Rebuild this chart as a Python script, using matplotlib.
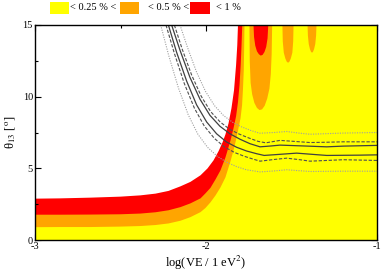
import numpy as np
import matplotlib
matplotlib.use("Agg")
import matplotlib.pyplot as plt
from matplotlib.patches import Rectangle
from matplotlib.ticker import MultipleLocator, FuncFormatter

plt.rcParams['font.family'] = ['Liberation Serif', 'DejaVu Serif']
plt.rcParams['mathtext.fontset'] = 'stix'

# ---- data ----
# outer boundary of the red (<1 %) region
red_x = [-3.0, -2.854, -2.678, -2.503, -2.386, -2.298, -2.222, -2.152, -2.094, -2.035,
         -1.994, -1.959, -1.930, -1.906, -1.889, -1.871, -1.854, -1.839, -1.827, -1.820,
         -1.816, -1.0]
red_th = [2.92, 2.94, 2.99, 3.06, 3.15, 3.27, 3.46, 3.78, 4.09, 4.55,
          5.03, 5.59, 6.22, 6.85, 7.41, 8.18, 9.23, 10.49, 12.24, 13.64,
          15, 15]
# boundary of the orange (<0.5 %) region
orange_x = [-3.0, -2.854, -2.678, -2.503, -2.386, -2.298, -2.222, -2.152, -2.094, -2.035,
            -2.006, -1.977, -1.947, -1.918, -1.889, -1.860, -1.842, -1.827, -1.816, -1.807,
            -1.800, -1.795, -1.791, -1.0]
orange_th = [1.80, 1.80, 1.81, 1.83, 1.88, 1.97, 2.11, 2.33, 2.59, 2.94,
             3.29, 3.67, 4.27, 4.90, 5.80, 6.96, 7.83, 8.67, 9.65, 10.84,
             12.24, 13.64, 15, 15]
# boundary of the yellow (<0.25 %) region
yellow_x = [-3.0, -2.854, -2.678, -2.503, -2.386, -2.298, -2.222, -2.152, -2.094, -2.035,
            -2.006, -1.977, -1.947, -1.918, -1.889, -1.860, -1.842, -1.827, -1.813, -1.801,
            -1.792, -1.787, -1.782, -1.780, -1.778, -1.0]
yellow_th = [0.93, 0.94, 0.94, 0.97, 1.01, 1.08, 1.19, 1.38, 1.63, 1.98,
             2.27, 2.66, 3.15, 3.71, 4.41, 5.52, 6.29, 7.03, 7.83, 8.53,
             9.44, 10.49, 11.89, 13.29, 15, 15]

# islands hanging from the top
isl1_orange_x = [-1.749, -1.747, -1.742, -1.733, -1.72, -1.705, -1.69, -1.675,
                 -1.66, -1.645, -1.632, -1.624, -1.619, -1.616]
isl1_orange_th = [15, 12.5, 11.0, 10.2, 9.6, 9.25, 9.1, 9.15, 9.4, 9.9, 10.6, 11.6, 13, 15]
isl1_red_x = [-1.725, -1.722, -1.715, -1.705, -1.694, -1.683, -1.672, -1.661, -1.651, -1.643, -1.639]
isl1_red_th = [15, 14.2, 13.6, 13.2, 13.0, 12.9, 12.95, 13.15, 13.5, 14.1, 15]
isl2_orange_x = [-1.556, -1.554, -1.548, -1.539, -1.531, -1.523, -1.515, -1.507, -1.498, -1.493, -1.491]
isl2_orange_th = [15, 13.9, 13.1, 12.7, 12.48, 12.4, 12.48, 12.7, 13.1, 13.9, 15]
isl3_orange_x = [-1.409, -1.407, -1.402, -1.395, -1.389, -1.383, -1.377, -1.371, -1.364, -1.359, -1.357]
isl3_orange_th = [15, 14.3, 13.7, 13.35, 13.17, 13.1, 13.17, 13.35, 13.7, 14.3, 15]

# contour lines (upper/lower dotted, dashed, solid)
ud_x = [-2.152, -2.108, -2.056, -2.003, -1.950, -1.898, -1.845, -1.793, -1.740, -1.687,
        -1.60, -1.528, -1.45, -1.392, -1.294, -1.197, -1.0]
ud_th = [15, 13.43, 11.74, 10.37, 9.37, 8.69, 8.22, 7.90, 7.65, 7.45,
         7.5, 7.57, 7.45, 7.38, 7.42, 7.46, 7.5]
uda_x = [-2.185, -2.139, -2.084, -2.028, -1.973, -1.917, -1.861, -1.806, -1.750, -1.695,
         -1.65, -1.567, -1.45, -1.392, -1.294, -1.197, -1.0]
uda_th = [15, 13.31, 11.51, 10.03, 8.96, 8.23, 7.72, 7.39, 7.12, 6.88,
          6.78, 6.95, 6.85, 6.8, 6.82, 6.85, 6.85]
us_x = [-2.201, -2.152, -2.094, -2.035, -1.977, -1.918, -1.860, -1.801, -1.743, -1.684,
        -1.62, -1.567, -1.45, -1.294, -1.197, -1.0]
us_th = [15, 13.24, 11.35, 9.82, 8.70, 7.93, 7.41, 7.03, 6.72, 6.50,
         6.56, 6.62, 6.57, 6.5, 6.55, 6.6]
ls_x = [-2.220, -2.172, -2.113, -2.055, -1.996, -1.938, -1.880, -1.821, -1.763, -1.704,
        -1.66, -1.60, -1.47, -1.35, -1.294, -1.1, -1.0]
ls_th = [15, 13.10, 11.08, 9.43, 8.23, 7.41, 6.84, 6.47, 6.21, 6.02,
         5.9, 5.95, 6.06, 5.95, 5.9, 5.92, 5.94]
lda_x = [-2.234, -2.185, -2.127, -2.068, -2.010, -1.951, -1.893, -1.834, -1.776, -1.718,
         -1.684, -1.60, -1.528, -1.45, -1.392, -1.294, -1.197, -1.0]
lda_th = [15, 13.02, 10.92, 9.20, 7.95, 7.09, 6.50, 6.11, 5.84, 5.62,
          5.5, 5.62, 5.71, 5.6, 5.5, 5.55, 5.6, 5.55]
ld_x = [-2.265, -2.218, -2.161, -2.104, -2.048, -1.991, -1.934, -1.878, -1.821, -1.764,
        -1.684, -1.60, -1.528, -1.45, -1.392, -1.2, -1.0]
ld_th = [15, 12.87, 10.60, 8.74, 7.39, 6.47, 5.84, 5.42, 5.12, 4.90,
         4.75, 4.82, 4.9, 4.83, 4.78, 4.8, 4.8]

legend_labels = ["< 0.25 % <", "< 0.5 % <", "< 1 %"]
YELLOW, ORANGE, RED = "#ffff00", "#ffa500", "#ff0000"

fig = plt.figure(figsize=(3.82, 2.74), dpi=100)
ax = fig.add_axes([35 / 382, 1 - 240 / 274, 342 / 382, 215 / 274])

ax.fill_between(red_x, 0, red_th, color=RED, lw=0, zorder=1)
ax.fill_between(orange_x, 0, orange_th, color=ORANGE, lw=0, zorder=2)
ax.fill_between(yellow_x, 0, yellow_th, color=YELLOW, lw=0, zorder=3)
ax.fill_between(isl1_orange_x, isl1_orange_th, 15, color=ORANGE, lw=0, zorder=4)
ax.fill_between(isl2_orange_x, isl2_orange_th, 15, color=ORANGE, lw=0, zorder=4)
ax.fill_between(isl3_orange_x, isl3_orange_th, 15, color=ORANGE, lw=0, zorder=4)
ax.fill_between(isl1_red_x, isl1_red_th, 15, color=RED, lw=0, zorder=5)

dot = (0, (1, 1.2))
dash = (0, (3, 1.5))
ax.plot(ud_x, ud_th, color="#a0a0a0", lw=0.8, ls=dot, zorder=6)
ax.plot(ld_x, ld_th, color="#a0a0a0", lw=0.8, ls=dot, zorder=6)
ax.plot(uda_x, uda_th, color="#505050", lw=0.8, ls=dash, zorder=6)
ax.plot(lda_x, lda_th, color="#505050", lw=0.8, ls=dash, zorder=6)
ax.plot(us_x, us_th, color="#404040", lw=0.9, zorder=6)
ax.plot(ls_x, ls_th, color="#404040", lw=0.9, zorder=6)

ax.set_xlim(-3, -1)
ax.set_ylim(0, 15)
ax.xaxis.set_major_locator(MultipleLocator(1))
ax.xaxis.set_minor_locator(MultipleLocator(0.5))
ax.yaxis.set_major_locator(MultipleLocator(5))
ax.yaxis.set_minor_locator(MultipleLocator(2.5))
ax.tick_params(which='both', direction='in', top=True, right=True, labelsize=7.5, width=0.8)
ax.tick_params(which='major', length=4, pad=1.5)
ax.tick_params(which='minor', length=2)
ax.xaxis.set_major_formatter(FuncFormatter(lambda v, p: "%d" % round(v)))
for s in ax.spines.values():
    s.set_linewidth(1.0)
    s.set_zorder(10)

ax.set_xlabel("log(VE / 1 eV$^2$)", fontsize=9, labelpad=2)
ax.set_ylabel(r"θ$_{13}$ [$^{\mathrm{o}}$]", fontsize=9, labelpad=3)

# legend above the axes
items = [(49.5 / 382, YELLOW, 70 / 382), (119.5 / 382, ORANGE, 147.5 / 382), (190 / 382, RED, 216.5 / 382)]
for (x0, col, tx), lab in zip(items, legend_labels):
    fig.add_artist(Rectangle((x0, 1 - 13.5 / 274), 19.5 / 382, 12 / 274, transform=fig.transFigure,
                             facecolor=col, edgecolor='none'))
    fig.text(tx, 1 - 7.5 / 274, lab, fontsize=7.5, va='center', ha='left')

fig.savefig("out.png", dpi=100)
